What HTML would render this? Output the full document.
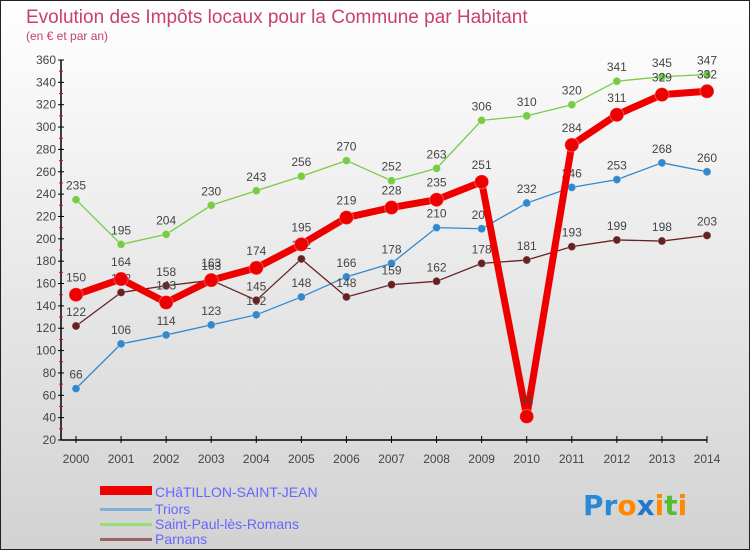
<!DOCTYPE html>
<html><head><meta charset="utf-8"><style>
body{margin:0;width:750px;height:550px;overflow:hidden;font-family:"Liberation Sans",sans-serif}
</style></head><body>
<svg id="c" width="750" height="550" xmlns="http://www.w3.org/2000/svg">
<defs><linearGradient id="bg" x1="0" y1="0" x2="0" y2="1"><stop offset="0" stop-color="#ffffff"/><stop offset="1" stop-color="#d2d2d2"/></linearGradient></defs>
<rect x="0.5" y="0.5" width="749" height="549" fill="url(#bg)" stroke="#222"/>
<text x="26" y="23" font-size="19" fill="#c8406e">Evolution des Impôts locaux pour la Commune par Habitant</text>
<text x="26" y="40" font-size="12" fill="#c8406e">(en € et par an)</text>
<g id="axes"></g><g id="series"></g>
<g>
<rect x="100" y="486" width="52" height="9" fill="#ee0000"/>
<text x="155" y="497" font-size="14" fill="#6666ff">CHâTILLON-SAINT-JEAN</text>
<rect x="100" y="508" width="52" height="3" fill="#7fb0d8"/>
<text x="155" y="514" font-size="14" fill="#6666ff">Triors</text>
<rect x="100" y="523" width="52" height="3" fill="#99dd77"/>
<text x="155" y="529" font-size="14" fill="#6666ff">Saint-Paul-lès-Romans</text>
<rect x="100" y="538" width="52" height="3" fill="#996666"/>
<text x="155" y="544" font-size="14" fill="#6666ff">Parnans</text>
</g>
<g font-size="28" font-weight="bold" font-family="'DejaVu Sans',sans-serif">
<text x="583" y="515"><tspan fill="#2a88d8">Pr</tspan><tspan fill="#ff8800">o</tspan><tspan fill="#2277cc">x</tspan><tspan fill="#ff8800">i</tspan><tspan fill="#55bb33">t</tspan><tspan fill="#ff8800">i</tspan></text>
</g>
</svg>
<script>
const years=[2000,2001,2002,2003,2004,2005,2006,2007,2008,2009,2010,2011,2012,2013,2014];
const chatillon=[150,164,143,163,174,195,219,228,235,251,41,284,311,329,332];
const triors=[66,106,114,123,132,148,166,178,210,209,232,246,253,268,260];
const saintPaul=[235,195,204,230,243,256,270,252,263,306,310,320,341,345,347];
const parnans=[122,152,158,163,145,182,148,159,162,178,181,193,199,198,203];
const yTicks=[20,40,60,80,100,120,140,160,180,200,220,240,260,280,300,320,340,360];
const NS="http://www.w3.org/2000/svg";
const xs=i=>76+i*(707-76)/(years.length-1);
const ys=v=>440-(v-20)*380/340;
function mk(t,a,p){const e=document.createElementNS(NS,t);for(const k in a)e.setAttribute(k,a[k]);(p||document.getElementById('series')).appendChild(e);return e;}
const ax=document.getElementById('axes');
let e=mk('line',{x1:61,y1:60,x2:61,y2:440,stroke:'#000','stroke-width':1.5},ax);


e=mk('line',{x1:61,y1:440,x2:707,y2:440,stroke:'#000','stroke-width':1.5},ax);


yTicks.forEach(v=>{
  mk('line',{x1:58,y1:ys(v),x2:64,y2:ys(v),stroke:'#000'},ax);
  if(v<360)mk('line',{x1:59,y1:ys(v+10),x2:63,y2:ys(v+10),stroke:'#e00'},ax);
  const t=mk('text',{x:56,y:ys(v)+4,'font-size':12,fill:'#444','text-anchor':'end'},ax);t.textContent=v;
  
  
});
years.forEach((y,i)=>{
  mk('line',{x1:xs(i),y1:436,x2:xs(i),y2:443,stroke:'#000'},ax);
  const t=mk('text',{x:xs(i),y:463,'font-size':12,fill:'#444','text-anchor':'middle'},ax);t.textContent=y;
  
  
});
function series(d,name,col,w,r){
  const g=mk('g',{});
  
  
  const p=mk('polyline',{points:d.map((v,i)=>xs(i)+','+ys(v)).join(' '),fill:'none',stroke:col,'stroke-width':w,'stroke-linejoin':'round'},g);
  
  
  d.forEach((v,i)=>{
    const c=mk('circle',{cx:xs(i),cy:ys(v),r:r,fill:col,stroke:'#fff','stroke-opacity':0.3},g);
    
    
    const t=mk('text',{x:xs(i),y:ys(v)-(r+6),'font-size':12,fill:'#444','text-anchor':'middle'},g);t.textContent=v;
    
    
  });
}
series(triors,'triors','#3388cc',1.3,4);
series(saintPaul,'saint-paul','#77cc44',1.3,4);
series(parnans,'parnans','#662222',1.3,4);
series(chatillon,'chatillon','#ee0000',7,7);
</script>
</body></html>
